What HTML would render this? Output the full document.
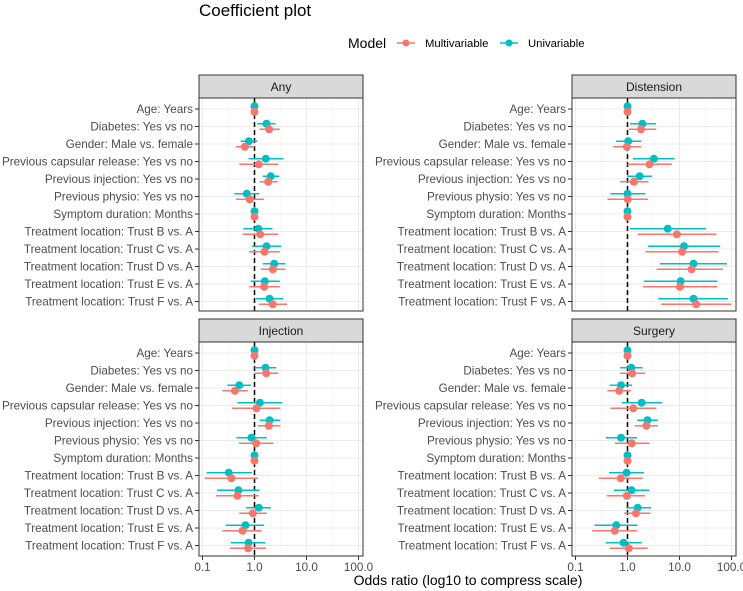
<!DOCTYPE html>
<html><head><meta charset="utf-8"><style>
body{margin:0;background:#fff;}
svg{display:block;font-family:"Liberation Sans",Arial,sans-serif;}
</style></head><body>
<svg id="chart" width="743" height="591" viewBox="0 0 743 591">
<text x="199" y="16" font-size="17" fill="#000">Coefficient plot</text>
<g>
<text x="348" y="48" font-size="14" fill="#000">Model</text>
<g><line x1="397" y1="43" x2="415" y2="43" stroke="#F8766D" stroke-width="1.5"/><circle cx="406" cy="43" r="3.5" fill="#F8766D"/><text x="425" y="47" font-size="11.3" fill="#000">Multivariable</text></g>
<g><line x1="500" y1="43" x2="518" y2="43" stroke="#00BFC4" stroke-width="1.5"/><circle cx="509" cy="43" r="3.5" fill="#00BFC4"/><text x="528" y="47" font-size="11.3" fill="#000">Univariable</text></g>
</g>
<text x="468" y="585" font-size="14" text-anchor="middle" fill="#000">Odds ratio (log10 to compress scale)</text>
</svg>
<script>
const terms=["Age: Years","Diabetes: Yes vs no","Gender: Male vs. female ","Previous capsular release: Yes vs no","Previous injection: Yes vs no","Previous physio: Yes vs no","Symptom duration: Months","Treatment location: Trust B vs. A","Treatment location: Trust C vs. A","Treatment location: Trust D vs. A","Treatment location: Trust E vs. A","Treatment location: Trust F vs. A"];
const panelNames=["Any","Distension","Injection","Surgery"];
const tickValues=[0.1,1,10,100];
const tickLabels=["0.1","1.0","10.0","100.0"];
// Any
const anyMultiOR=[1,1.91,0.65,1.21,1.83,0.81,1,1.29,1.56,2.25,1.53,2.25];
const anyMultiLo=[0.97,1.25,0.44,0.51,1.25,0.44,0.98,0.59,0.79,1.32,0.79,1.21];
const anyMultiHi=[1.03,3.07,1.0,2.85,2.81,1.53,1.02,2.85,3.07,3.95,3.07,4.25];
const anyUniOR=[1,1.70,0.78,1.65,2.06,0.71,1,1.18,1.70,2.39,1.58,1.94];
const anyUniLo=[0.97,1.13,0.54,0.77,1.43,0.41,0.98,0.61,0.90,1.45,0.84,1.06];
const anyUniHi=[1.03,2.53,1.14,3.61,2.98,1.23,1.02,2.22,3.26,3.95,3.07,3.56];
// Distension
const disMultiOR=[1,1.82,0.97,2.65,1.33,1.01,1,8.9,11.2,17.0,10.2,20.9];
const disMultiLo=[0.97,1.05,0.53,1.0,0.71,0.41,0.98,1.57,2.21,3.63,1.99,4.41];
const disMultiHi=[1.03,3.57,1.82,7.2,2.53,2.49,1.02,51.4,56.2,68.4,53.0,99.3];
const disUniOR=[1,1.93,1.03,3.22,1.71,1.0,1,5.94,12.2,18.6,10.5,18.6];
const disUniLo=[0.97,1.11,0.60,1.27,0.99,0.47,0.98,1.11,2.46,4.21,2.08,3.91];
const disUniHi=[1.03,3.52,1.85,8.0,2.98,2.21,1.02,32.3,60.6,81.8,53.8,85.5];
// Injection
const injMultiOR=[1,1.68,0.42,1.09,1.89,1.08,1,0.36,0.47,0.93,0.59,0.75];
const injMultiLo=[0.97,1.0,0.24,0.37,1.14,0.50,0.98,0.11,0.18,0.51,0.24,0.34];
const injMultiHi=[1.03,2.87,0.74,3.14,3.18,2.33,1.02,1.16,1.21,1.73,1.37,1.66];
const injUniOR=[1,1.63,0.51,1.27,1.95,0.87,1,0.32,0.49,1.21,0.67,0.77];
const injUniLo=[0.97,1.0,0.30,0.47,1.25,0.45,0.98,0.12,0.19,0.69,0.28,0.35];
const injUniHi=[1.03,2.63,0.85,3.43,3.14,1.73,1.02,0.89,1.25,2.07,1.54,1.61];
// Surgery
const surMultiOR=[1,1.23,0.69,1.29,2.31,1.21,1,0.74,0.97,1.45,0.57,1.06];
const surMultiLo=[0.97,0.72,0.41,0.47,1.37,0.57,0.98,0.28,0.40,0.86,0.21,0.46];
const surMultiHi=[1.03,2.18,1.16,3.61,3.84,2.64,1.02,1.96,2.18,2.77,1.52,2.45];
const surUniOR=[1,1.18,0.75,1.87,2.42,0.75,1,0.96,1.20,1.57,0.61,0.84];
const surUniLo=[0.97,0.72,0.46,0.78,1.54,0.38,0.98,0.44,0.55,0.94,0.23,0.38];
const surUniHi=[1.03,1.96,1.23,4.67,3.84,1.52,1.02,2.08,2.64,2.85,1.57,1.87];

const panelData=[
 [anyMultiOR,anyMultiLo,anyMultiHi,anyUniOR,anyUniLo,anyUniHi],
 [disMultiOR,disMultiLo,disMultiHi,disUniOR,disUniLo,disUniHi],
 [injMultiOR,injMultiLo,injMultiHi,injUniOR,injUniLo,injUniHi],
 [surMultiOR,surMultiLo,surMultiHi,surUniOR,surUniLo,surUniHi]];
const NS="http://www.w3.org/2000/svg";
const svg=document.getElementById('chart');
function mk(tag,attrs,parent){const e=document.createElementNS(NS,tag);for(const k in attrs)e.setAttribute(k,attrs[k]);(parent||svg).appendChild(e);return e;}
const PW=164, LMIN=-1-3.5/52, LMAX=2+4.5/52;
const layout=[{x:199,st:75,y0:98,y1:311},{x:572,st:75,y0:98,y1:311},{x:199,st:319,y0:342,y1:556},{x:572,st:319,y0:342,y1:556}];
const RED="#F8766D", TEAL="#00BFC4";
panelData.forEach((d,p)=>{
 const L=layout[p];
 const g=mk('g',{});
 
 
 const sx=v=>L.x+(Math.log10(v)-LMIN)/(LMAX-LMIN)*PW;
 const sy=i=>L.y0+11+i*17.5;
 const bg=mk('rect',{x:L.x,y:L.y0,width:PW,height:L.y1-L.y0,fill:'#fff'},g);
 
 
 [0.316,3.16,31.6].forEach(v=>mk('line',{x1:sx(v),x2:sx(v),y1:L.y0,y2:L.y1,stroke:'#f2f2f2','stroke-width':0.6},g));
 tickValues.forEach(v=>mk('line',{x1:sx(v),x2:sx(v),y1:L.y0,y2:L.y1,stroke:'#ebebeb','stroke-width':1.1},g));
 terms.forEach((t,i)=>mk('line',{x1:L.x,x2:L.x+PW,y1:sy(i),y2:sy(i),stroke:'#ebebeb','stroke-width':1.1},g));
 const ref=mk('line',{x1:sx(1),x2:sx(1),y1:L.y0,y2:L.y1,stroke:'#000','stroke-width':1.5,'stroke-dasharray':'5,3'},g);
 
 
 const series=[{c:TEAL,o:d[3],lo:d[4],hi:d[5],dy:-2.8,n:'univariable'},{c:RED,o:d[0],lo:d[1],hi:d[2],dy:2.8,n:'multivariable'}];
 series.forEach(s=>{
  terms.forEach((t,i)=>{
   const y=sy(i)+s.dy;
   const ln=mk('line',{x1:sx(s.lo[i]),x2:sx(s.hi[i]),y1:y,y2:y,stroke:s.c,'stroke-width':1.5},g);
   
   
   const c=mk('circle',{cx:sx(s.o[i]),cy:y,r:4,fill:s.c},g);
   
   
  });
 });
 mk('rect',{x:L.x,y:L.y0,width:PW,height:L.y1-L.y0,fill:'none',stroke:'#333','stroke-width':1},g);
 const strip=mk('rect',{x:L.x,y:L.st,width:PW,height:L.y0-L.st,fill:'#d9d9d9',stroke:'#333','stroke-width':1},g);
 
 
 const st=mk('text',{x:L.x+PW/2,y:L.st+16,'font-size':12,'text-anchor':'middle',fill:'#1a1a1a'},g);
 st.textContent=panelNames[p];
 
 
 terms.forEach((t,i)=>{
  mk('line',{x1:L.x-4,x2:L.x,y1:sy(i),y2:sy(i),stroke:'#333','stroke-width':1},g);
  const tx=mk('text',{x:L.x-6,y:sy(i)+4,'font-size':11.7,'text-anchor':'end',fill:'#4d4d4d','xml:space':'preserve'},g);
  tx.textContent=t;
  
  
 });
 if(p>=2){
  tickValues.forEach((v,k)=>{
   mk('line',{x1:sx(v),x2:sx(v),y1:L.y1,y2:L.y1+4,stroke:'#333','stroke-width':1},g);
   const tx=mk('text',{x:sx(v),y:L.y1+15,'font-size':11.7,'text-anchor':'middle',fill:'#4d4d4d'},g);
   tx.textContent=tickLabels[k];
   
   
  });
 }
});
</script>
</body></html>
